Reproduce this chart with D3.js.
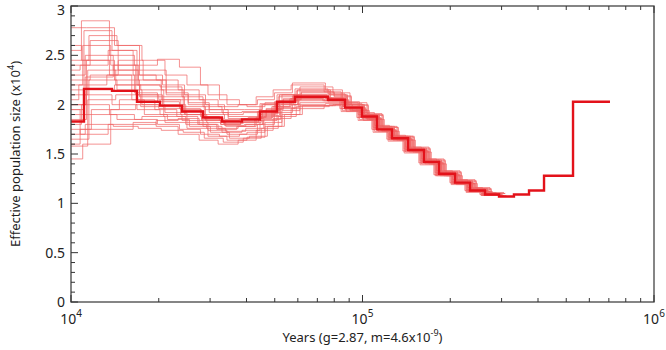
<!DOCTYPE html>
<html>
<head>
<meta charset="utf-8">
<script src="https://cdn.jsdelivr.net/npm/d3@7"></script>
<style>
  body { margin: 0; background: #fff; }
  text { font-family: "Noto Sans", sans-serif; fill: #222; }
</style>
</head>
<body>
<div id="chart"></div>
<script>
// time breakpoints (years) of the main PSMC curve
var mainTimes = [8000, 11080, 13825, 16840, 20200, 24030, 28370, 32960, 38600, 44500, 50900, 58670,
    76130, 87100, 99600, 112100, 126200, 143300, 162500, 183000, 207700, 233800, 263200, 294000,
    330800, 372600, 419500, 527500, 706300];
// effective population size (x10^4) in each interval
var mainNe = [1.83, 2.16, 2.14, 2.03, 1.99, 1.93, 1.87, 1.83, 1.85, 1.93, 2.03, 2.08, 2.05, 1.97,
    1.88, 1.75, 1.66, 1.54, 1.42, 1.30, 1.21, 1.13, 1.09, 1.07, 1.09, 1.13, 1.28, 2.03];

// bootstrap curves: own time scaling + Ne per interval (first 23 intervals)
var bootScale = [1.02, 0.98, 1.04, 0.97, 1.01, 1.05, 0.99, 1.03, 0.96, 1.02, 1.00, 1.04, 0.98,
    1.06, 1.01, 0.97, 1.03, 0.99, 1.05, 1.00, 1.02, 0.98, 1.04, 1.01, 0.97];
var bootNe = [
    [2.78, 2.78, 2.60, 2.30, 2.20, 2.10, 2.00, 1.95, 1.95, 2.00, 2.10, 2.15, 2.10, 2.00, 1.90, 1.78, 1.68, 1.56, 1.44, 1.32, 1.23, 1.15, 1.10],
    [2.55, 2.85, 2.50, 2.40, 2.46, 2.38, 2.20, 2.05, 2.00, 2.05, 2.12, 2.22, 2.15, 2.03, 1.92, 1.79, 1.69, 1.57, 1.45, 1.33, 1.24, 1.16, 1.11],
    [2.45, 2.70, 2.60, 2.45, 2.30, 2.20, 2.10, 2.00, 1.98, 2.02, 2.10, 2.18, 2.12, 2.02, 1.91, 1.78, 1.68, 1.57, 1.45, 1.33, 1.24, 1.16, 1.11],
    [2.35, 2.40, 2.55, 2.30, 2.25, 2.15, 2.05, 1.98, 2.00, 2.08, 2.15, 2.20, 2.13, 2.02, 1.90, 1.77, 1.67, 1.55, 1.43, 1.31, 1.22, 1.14, 1.10],
    [2.30, 2.50, 2.35, 2.20, 2.15, 2.05, 1.95, 1.90, 1.92, 2.00, 2.08, 2.14, 2.10, 2.00, 1.89, 1.76, 1.67, 1.55, 1.43, 1.31, 1.22, 1.14, 1.10],
    [2.25, 2.30, 2.45, 2.35, 2.10, 2.00, 1.95, 1.88, 1.88, 1.95, 2.05, 2.12, 2.08, 1.99, 1.89, 1.77, 1.67, 1.55, 1.43, 1.31, 1.22, 1.14, 1.10],
    [2.20, 2.60, 2.40, 2.10, 2.05, 1.95, 1.85, 1.80, 1.83, 1.92, 2.02, 2.10, 2.07, 1.98, 1.88, 1.76, 1.66, 1.54, 1.42, 1.30, 1.21, 1.13, 1.09],
    [2.10, 2.35, 2.20, 2.15, 2.00, 1.90, 1.82, 1.78, 1.80, 1.88, 2.00, 2.07, 2.05, 1.97, 1.87, 1.75, 1.66, 1.54, 1.42, 1.30, 1.21, 1.13, 1.09],
    [2.05, 2.20, 2.30, 2.05, 1.95, 1.88, 1.80, 1.75, 1.78, 1.86, 1.98, 2.06, 2.04, 1.96, 1.87, 1.75, 1.65, 1.53, 1.41, 1.29, 1.21, 1.13, 1.09],
    [2.00, 2.45, 2.25, 2.10, 2.08, 1.98, 1.90, 1.85, 1.86, 1.94, 2.04, 2.10, 2.07, 1.98, 1.88, 1.76, 1.66, 1.54, 1.42, 1.30, 1.21, 1.13, 1.09],
    [1.95, 2.10, 2.00, 1.95, 1.90, 1.84, 1.78, 1.72, 1.74, 1.84, 1.96, 2.04, 2.03, 1.95, 1.86, 1.74, 1.65, 1.53, 1.41, 1.29, 1.20, 1.12, 1.08],
    [1.90, 2.25, 2.15, 2.00, 1.92, 1.82, 1.74, 1.70, 1.72, 1.82, 1.94, 2.02, 2.02, 1.95, 1.86, 1.74, 1.65, 1.53, 1.41, 1.29, 1.20, 1.12, 1.08],
    [1.80, 2.00, 1.90, 1.85, 1.80, 1.75, 1.70, 1.68, 1.70, 1.80, 1.92, 2.00, 2.01, 1.94, 1.85, 1.73, 1.64, 1.52, 1.40, 1.28, 1.20, 1.12, 1.08],
    [1.75, 1.95, 2.05, 1.90, 1.85, 1.78, 1.72, 1.66, 1.68, 1.78, 1.90, 1.99, 2.00, 1.94, 1.85, 1.73, 1.64, 1.52, 1.40, 1.28, 1.20, 1.12, 1.08],
    [1.70, 1.80, 1.78, 1.76, 1.74, 1.72, 1.66, 1.62, 1.66, 1.76, 1.88, 1.98, 2.00, 1.93, 1.84, 1.73, 1.64, 1.52, 1.40, 1.28, 1.19, 1.12, 1.08],
    [1.60, 1.75, 1.80, 1.82, 1.78, 1.70, 1.64, 1.60, 1.64, 1.74, 1.86, 1.96, 1.99, 1.93, 1.84, 1.72, 1.63, 1.51, 1.39, 1.28, 1.19, 1.11, 1.08],
    [1.58, 2.05, 2.10, 1.98, 1.88, 1.80, 1.76, 1.73, 1.76, 1.85, 1.97, 2.05, 2.04, 1.96, 1.86, 1.74, 1.65, 1.53, 1.41, 1.29, 1.20, 1.12, 1.08],
    [1.45, 1.60, 1.95, 2.00, 1.96, 1.90, 1.84, 1.80, 1.82, 1.90, 2.01, 2.08, 2.06, 1.98, 1.88, 1.76, 1.66, 1.54, 1.42, 1.30, 1.21, 1.13, 1.09],
    [2.40, 2.65, 2.35, 2.25, 2.12, 2.02, 1.92, 1.86, 1.87, 1.96, 2.06, 2.13, 2.09, 2.00, 1.90, 1.77, 1.68, 1.56, 1.44, 1.32, 1.23, 1.15, 1.10],
    [2.15, 2.75, 2.55, 2.20, 2.18, 2.08, 1.98, 1.92, 1.93, 2.01, 2.10, 2.16, 2.11, 2.01, 1.90, 1.78, 1.68, 1.56, 1.44, 1.32, 1.23, 1.15, 1.10],
    [1.85, 2.15, 2.20, 2.08, 1.98, 1.90, 1.84, 1.79, 1.80, 1.89, 2.00, 2.07, 2.05, 1.97, 1.87, 1.75, 1.66, 1.54, 1.42, 1.30, 1.21, 1.13, 1.09],
    [2.60, 2.45, 2.30, 2.12, 2.03, 1.96, 1.88, 1.84, 1.85, 1.93, 2.03, 2.09, 2.06, 1.98, 1.88, 1.76, 1.66, 1.54, 1.42, 1.30, 1.21, 1.13, 1.09],
    [1.65, 1.90, 1.85, 1.88, 1.82, 1.76, 1.68, 1.64, 1.67, 1.78, 1.90, 1.99, 2.00, 1.94, 1.85, 1.73, 1.64, 1.52, 1.40, 1.28, 1.20, 1.12, 1.08],
    [2.00, 2.28, 2.40, 2.25, 2.05, 1.94, 1.86, 1.81, 1.82, 1.91, 2.02, 2.09, 2.06, 1.98, 1.88, 1.76, 1.66, 1.54, 1.42, 1.30, 1.21, 1.13, 1.09],
    [1.95, 1.70, 1.75, 1.80, 1.84, 1.86, 1.80, 1.76, 1.78, 1.87, 1.98, 2.06, 2.04, 1.96, 1.87, 1.75, 1.65, 1.53, 1.41, 1.29, 1.20, 1.12, 1.08]
];

var yTicks = [0, 0.5, 1, 1.5, 2, 2.5, 3];
var xDecades = [4, 5, 6];

// layout
var W = 666, H = 350;
var margin = { top: 6, right: 12, bottom: 48, left: 71 },
    width = 654 - margin.left,
    height = 302 - margin.top;

var svg = d3.select("#chart").append("svg")
    .attr("width", W).attr("height", H);
var g = svg.append("g")
    .attr("transform", "translate(" + margin.left + "," + margin.top + ")");

var x = d3.scaleLog().domain([1e4, 1e6]).range([0, width]);
var y = d3.scaleLinear().domain([0, 3]).range([height, 0]);

g.append("clipPath").attr("id", "clip")
    .append("rect").attr("width", width).attr("height", height);

function stepPoints(times, ne) {
    var pts = ne.map(function (v, i) { return [times[i], v]; });
    pts.push([times[ne.length], ne[ne.length - 1]]);
    return pts;
}

var line = d3.line()
    .curve(d3.curveStepAfter)
    .x(function (d) { return x(d[0]); })
    .y(function (d) { return y(d[1]); });

var plot = g.append("g").attr("clip-path", "url(#clip)");

// bootstraps
bootNe.forEach(function (ne, k) {
    var times = mainTimes.slice(0, ne.length + 1).map(function (t) { return t * bootScale[k]; });
    plot.append("path")
        .datum(stepPoints(times, ne))
        .attr("fill", "none")
        .attr("stroke", "#f06464")
        .attr("stroke-opacity", 0.7)
        .attr("stroke-width", 1)
        .attr("d", line);
});

// main curve
plot.append("path")
    .datum(stepPoints(mainTimes, mainNe))
    .attr("fill", "none")
    .attr("stroke", "#e3121a")
    .attr("stroke-width", 2.4)
    .attr("d", line);

// frame
g.append("rect")
    .attr("width", width).attr("height", height)
    .attr("fill", "none").attr("stroke", "#444").attr("stroke-width", 1.3);

// y ticks: minor every 0.1, major every 0.5
var yMinor = d3.range(0, 31).map(function (i) { return i / 10; });
g.selectAll(".ym").data(yMinor).enter().append("line")
    .attr("x1", 0).attr("x2", function (d, i) { return i % 5 === 0 ? 7 : 4; })
    .attr("y1", function (d) { return y(d); }).attr("y2", function (d) { return y(d); })
    .attr("stroke", "#333").attr("stroke-width", 1);

g.selectAll(".yl").data(yTicks).enter().append("text")
    .attr("x", -6).attr("y", function (d) { return y(d) + (d === 3 ? 4 : 0); })
    .attr("dy", "0.35em").attr("text-anchor", "end")
    .style("font-size", "14px")
    .text(function (d) { return d; });

// x log ticks top and bottom
var xMinor = x.ticks();
[0, height].forEach(function (yy) {
    var dir = yy === 0 ? 1 : -1;
    g.selectAll(".xt" + yy).data(xMinor).enter().append("line")
        .attr("x1", function (d) { return x(d); }).attr("x2", function (d) { return x(d); })
        .attr("y1", yy)
        .attr("y2", function (d) { return yy + dir * (Math.abs(Math.log10(d) % 1) < 1e-9 ? 7 : 4); })
        .attr("stroke", "#333").attr("stroke-width", 1);
});

var xl = g.selectAll(".xl").data(xDecades).enter().append("text")
    .attr("x", function (d) { return x(Math.pow(10, d)); })
    .attr("y", height + 22)
    .attr("text-anchor", "middle")
    .style("font-size", "14px");
xl.append("tspan").text("10");
xl.append("tspan").attr("dy", "-7").style("font-size", "10px").text(function (d) { return d; });

// axis titles
var xt = svg.append("text")
    .attr("x", margin.left + width / 2).attr("y", 342)
    .attr("text-anchor", "middle").style("font-size", "13px");
xt.append("tspan").text("Years (g=2.87, m=4.6x10");
xt.append("tspan").attr("dy", "-6").style("font-size", "9px").text("-9");
xt.append("tspan").attr("dy", "6").text(")");

var yt = svg.append("text")
    .attr("transform", "translate(20," + (margin.top + height / 2) + ") rotate(-90)")
    .attr("text-anchor", "middle").style("font-size", "13px");
yt.append("tspan").text("Effective population size (x10");
yt.append("tspan").attr("dy", "-6").style("font-size", "9px").text("4");
yt.append("tspan").attr("dy", "6").text(")");
</script>
</body>
</html>
